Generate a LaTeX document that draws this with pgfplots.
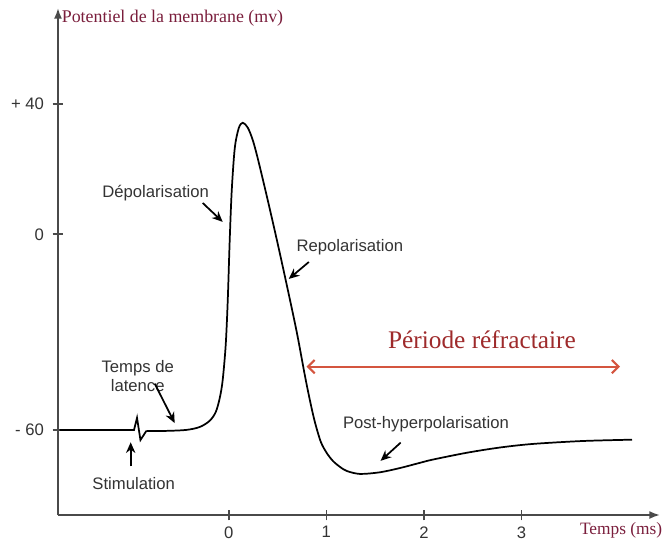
\documentclass[border=0pt]{standalone}
\usepackage{fontspec}
\setmainfont{Liberation Serif}
\newfontfamily\sans{Liberation Sans}
\usepackage{pgfplots}
\pgfplotsset{compat=1.18}
\usetikzlibrary{arrows.meta}
\definecolor{titlered}{HTML}{7A1E3C}
\definecolor{refred}{HTML}{9E2A2B}
\definecolor{arrowred}{HTML}{D4553F}
\definecolor{axgray}{HTML}{4A4A4A}

\begin{document}
\begin{tikzpicture}
% 1 px of the reference = 0.75pt
\path[use as bounding box] (-43.5pt,-21.75pt) rectangle (453.75pt,386.25pt);
\begin{axis}[
  scale only axis,
  width=451.5pt, height=380.25pt,
  xmin=-1.75, xmax=4.42,
  ymin=-86.1, ymax=69.4,
  axis lines=left,
  axis line style={axgray, line width=1.4pt, -{Latex[length=8pt,width=6pt]}},
  xtick={0,1,2,3}, xticklabels={0,1,2,3},
  ytick={-60,0,40}, yticklabels={- 60,0,+ 40},
  tick align=center, major tick length=8pt,
  tick style={axgray, line width=1.2pt},
  ticklabel style={font=\sans\fontsize{12.5}{14}\selectfont, text=black!80},
  yticklabel style={xshift=-3pt},
  xticklabel style={yshift=-1pt},
  clip=false,
]
% baseline and stimulation artefact
\addplot[black, line width=1.3pt] coordinates {
  (-1.733,-60) (-0.971,-60) (-0.940,-56.3) (-0.905,-63.1) (-0.844,-60.3)
};
% action potential
\addplot[black, line width=1.3pt, smooth, tension=0.5] coordinates {
  (-0.844,-60.3) (-0.639,-60.3) (-0.434,-60.0) (-0.297,-59.1) (-0.195,-57.2)
  (-0.133,-54.5) (-0.092,-50.2) (-0.062,-44.7) (-0.031,-33.9) (-0.010,-20.1)
  (0.010,-1.7) (0.031,13.6) (0.062,26.5) (0.103,32.6) (0.144,34.2)
  (0.195,32.7) (0.246,28.9) (0.297,23.3) (0.390,11.7) (0.492,-1.6)
  (0.595,-15.6) (0.697,-30.0) (0.779,-43.1) (0.831,-50.8) (0.882,-57.5)
  (0.944,-63.7) (1.005,-67.1) (1.067,-69.5) (1.138,-71.3) (1.210,-72.6)
  (1.344,-73.5) (1.549,-73.0) (1.754,-71.7) (1.959,-70.1) (2.092,-69.1)
  (2.441,-67.0) (2.779,-65.4) (3.118,-64.3) (3.631,-63.4) (4.133,-63.0)
};

\node[anchor=west, text=titlered, font=\fontsize{13.4}{15}\selectfont, inner sep=0pt]
  at (axis cs:-1.713,66.4) {Potentiel de la membrane (mv)};
\node[text=titlered, font=\fontsize{13}{15}\selectfont, inner sep=0pt]
  at (axis cs:4.021,-90.7) {Temps (ms)};

\tikzset{lbl/.style={text=black!80, font=\sans\fontsize{12.5}{14}\selectfont, inner sep=0pt, align=center},
  bk/.style={black, line width=1.3pt, -{Stealth[length=8pt,width=7pt]}}}
\node[lbl] at (axis cs:-0.749,12.7) {Dépolarisation};
\draw[bk] (axis cs:-0.267,9.6) -- (axis cs:-0.062,3.8);
\node[lbl] at (axis cs:1.241,-3.9) {Repolarisation};
\draw[bk] (axis cs:0.821,-8.5) -- (axis cs:0.615,-13.7);
\node[lbl] at (axis cs:-0.933,-43.4) {Temps de\\latence};
\draw[bk] (axis cs:-0.759,-45.8) -- (axis cs:-0.554,-57.9);
\node[lbl] at (axis cs:-0.974,-76.3) {Stimulation};
\draw[bk] (axis cs:-1.005,-71.2) -- (axis cs:-1.005,-63.8);
\node[lbl] at (axis cs:2.021,-58.2) {Post-hyperpolarisation};
\draw[bk] (axis cs:1.762,-63.9) -- (axis cs:1.556,-69.5);

\node[text=refred, font=\fontsize{19}{22}\selectfont, inner sep=0pt]
  at (axis cs:2.595,-32.4) {Période réfractaire};
\draw[arrowred, line width=1.6pt, {Straight Barb[length=5pt,width=10pt]}-{Straight Barb[length=5pt,width=10pt]}]
  (axis cs:0.797,-40.6) -- (axis cs:4.010,-40.6);
\end{axis}
\end{tikzpicture}
\end{document}
